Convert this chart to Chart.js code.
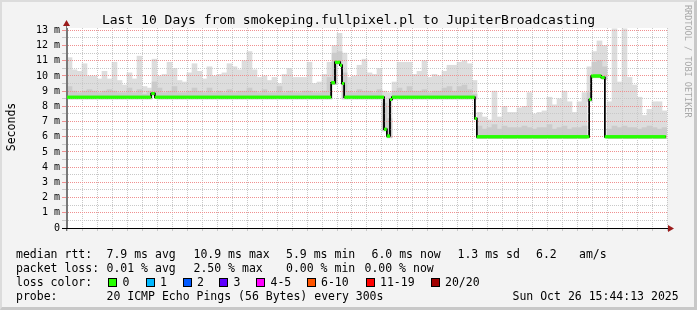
<!DOCTYPE html>
<html lang="en">
<head>
<meta charset="UTF-8">
<title>Last 10 Days from smokeping.fullpixel.pl to JupiterBroadcasting</title>
<script src="https://cdn.jsdelivr.net/npm/chart.js"></script>
<style>
    * { margin: 0; padding: 0; box-sizing: border-box; }
    body {
        width: 697px; height: 310px; overflow: hidden;
        background: #f3f3f3; color: #000;
        font-family: 'DejaVu Sans Mono', monospace;
    }
    .frame {
        position: absolute; left: 0; top: 0; width: 697px; height: 310px;
        border-left: 2px solid #dcdcdc; border-top: 2px solid #dcdcdc;
        border-right: 3px solid #c8c8c8; border-bottom: 3px solid #c8c8c8;
    }
    #chart { position: absolute; left: 0; top: 0; }
    .title {
        position: absolute; left: 0; top: 13px; width: 697px;
        text-align: center; font-size: 13px; line-height: 13px; white-space: pre;
    }
    .ylabel {
        position: absolute; left: -19px; top: 120px; width: 60px; height: 14px;
        text-align: center; font-size: 11.5px; line-height: 14px;
        transform: rotate(-90deg);
    }
    .credit {
        position: absolute; left: 683px; top: 5px; font-size: 8.5px; line-height: 9px;
        color: #a8a8a8; writing-mode: vertical-rl; white-space: pre;
    }
    .lg { position: absolute; font-size: 11.5px; line-height: 14px; white-space: pre; }
    .box { position: absolute; top: 278px; width: 9px; height: 9px; border: 1px solid #000; }
</style>
</head>
<body>
<div class="frame"></div>
<canvas id="chart" width="697" height="310"></canvas>

<div class="title">Last 10 Days from smokeping.fullpixel.pl to JupiterBroadcasting</div>
<div class="ylabel">Seconds</div>
<div class="credit">RRDTOOL / TOBI OETIKER</div>

<!-- legend rows -->
<span class="lg" style="left:16px;top:247px">median rtt:</span>
<span class="lg" style="left:106.5px;top:247px">7.9 ms avg</span>
<span class="lg" style="left:193.5px;top:247px">10.9 ms max</span>
<span class="lg" style="left:286px;top:247px">5.9 ms min</span>
<span class="lg" style="left:371.5px;top:247px">6.0 ms now</span>
<span class="lg" style="left:457.5px;top:247px">1.3 ms sd</span>
<span class="lg" style="left:536px;top:247px">6.2</span>
<span class="lg" style="left:579px;top:247px">am/s</span>

<span class="lg" style="left:16px;top:261px">packet loss:</span>
<span class="lg" style="left:106.5px;top:261px">0.01 % avg</span>
<span class="lg" style="left:193.5px;top:261px">2.50 % max</span>
<span class="lg" style="left:286px;top:261px">0.00 % min</span>
<span class="lg" style="left:364.5px;top:261px">0.00 % now</span>

<span class="lg" style="left:16px;top:275px">loss color:</span>
<div id="lossLegend"></div>

<span class="lg" style="left:16px;top:289px">probe:</span>
<span class="lg" style="left:106.5px;top:289px">20 ICMP Echo Pings (56 Bytes) every 300s</span>
<span class="lg" style="left:512.5px;top:289px">Sun Oct 26 15:44:13 2025</span>

<script>
    // time axis: hours since 16 Oct 00:00
    const timeMin = 17.2;
    const timeMax = 257.2;
    const dayLabels = ['17 Oct', '18 Oct', '19 Oct', '20 Oct', '21 Oct', '22 Oct', '23 Oct', '24 Oct', '25 Oct', '26 Oct'];

    // median rtt (ms) as steps: value medV[i] holds from medT[i] to the next break
    const medT = [17.2, 50.9, 52.3, 122.9, 124.4, 126.4, 127.2, 128.1, 144.0, 145.1, 146.4, 147.2, 180.3, 181.1, 226.1, 226.9, 230.9, 232.3];
    const medV = [8.6, 8.85, 8.6, 9.55, 10.9, 10.7, 9.5, 8.6, 6.5, 6.05, 8.45, 8.6, 7.2, 6.0, 8.45, 10.0, 9.9, 6.0];
    const medEnd = 256.7;

    // smoke, one column every 2 hours starting at 18.2 h (top of light and mid grey)
    const smokeHi = [
        11.2, 10.4, 10.3, 10.8, 10.0, 10.0, 9.8, 10.3, 9.8, 10.9,
        9.7, 9.4, 10.2, 9.8, 11.3, 9.3, 9.2, 11.1, 10.0, 10.1,
        10.9, 10.5, 9.7, 9.6, 10.2, 10.8, 10.3, 9.8, 10.6, 10.0,
        10.1, 10.2, 10.8, 10.6, 10.4, 11.0, 11.6, 10.4, 9.9, 10.0,
        9.7, 9.9, 9.5, 10.1, 10.5, 9.9, 9.9, 9.9, 10.9, 9.5,
        9.6, 10.1, 10.9, 12.0, 12.8, 11.5, 9.9, 10.0, 10.7, 11.1,
        10.2, 10.1, 10.5, 9.0, 8.9, 9.6, 10.9, 10.9, 10.9, 10.1,
        10.3, 11.0, 9.9, 10.1, 10.0, 10.3, 10.7, 10.7, 10.9, 11.0,
        10.8, 9.7, 7.6, 7.3, 7.1, 9.0, 7.3, 8.0, 7.6, 7.6,
        7.9, 8.0, 8.9, 7.5, 7.6, 7.7, 8.6, 8.1, 8.5, 9.0,
        8.3, 7.6, 8.3, 8.9, 10.6, 11.6, 12.3, 12.0, 8.3, 13.1,
        9.6, 13.1, 9.9, 9.4, 8.6, 7.4, 7.8, 8.3, 8.3, 7.7
    ];
    const smokeMid = [
        9.3, 9.0, 8.9, 9.0, 9.1, 9.0, 8.9, 9.0, 9.1, 9.0,
        8.9, 8.9, 9.2, 8.9, 9.1, 8.8, 9.0, 9.6, 9.2, 8.9,
        9.0, 9.3, 8.9, 8.9, 9.0, 9.2, 9.0, 8.9, 9.2, 8.9,
        9.0, 8.9, 9.1, 8.9, 9.0, 9.0, 9.2, 9.0, 8.9, 9.1,
        8.9, 8.9, 9.3, 8.9, 9.0, 8.9, 8.9, 9.0, 9.0, 8.9,
        8.9, 9.0, 9.9, 11.5, 11.6, 10.2, 9.0, 8.9, 9.1, 9.0,
        9.0, 8.9, 9.1, 8.2, 7.2, 9.0, 9.2, 9.0, 9.3, 9.0,
        9.0, 9.1, 8.9, 9.0, 9.0, 9.2, 9.3, 9.0, 9.3, 9.4,
        9.1, 8.8, 6.7, 6.5, 6.6, 6.8, 6.5, 6.7, 6.6, 6.6,
        6.6, 6.7, 6.6, 6.5, 6.6, 6.6, 6.8, 6.5, 6.6, 6.7,
        6.5, 6.6, 6.6, 6.7, 8.9, 10.9, 11.0, 10.6, 6.5, 6.7,
        6.6, 6.7, 6.6, 6.6, 6.5, 6.6, 6.7, 6.6, 6.5, 6.6
    ];

    // loss colour legend
    const lossNames = ['0', '1', '2', '3', '4-5', '6-10', '11-19', '20/20'];
    const lossColors = ['#26ff00', '#00b8ff', '#0059ff', '#5e00ff', '#ff00fe', '#ff5500', '#ff0000', '#a10000'];
    const lossBoxX = [108, 145.5, 182.5, 219, 256, 306.5, 365.5, 430.5];

    const lossLegend = document.getElementById('lossLegend');
    lossNames.forEach((name, i) => {
        lossLegend.innerHTML +=
            `<div class="box" style="left:${lossBoxX[i]}px;background:${lossColors[i]}"></div>` +
            `<span class="lg" style="left:${lossBoxX[i] + 14.5}px;top:275px">${name}</span>`;
    });

    function medianAt(h) {
        let v = medV[0];
        for (let i = 0; i < medT.length; i++) {
            if (h >= medT[i]) v = medV[i];
        }
        return v;
    }

    const binT = smokeHi.map((_, i) => 18.2 + 2 * i);

    const greenData = [];
    medT.forEach((t, i) => {
        const t1 = i + 1 < medT.length ? medT[i + 1] : medEnd;
        greenData.push({ x: t, y: medV[i] }, { x: t1, y: medV[i] }, { x: t1, y: null });
    });
    const blackData = medT.map((t, i) => ({ x: t, y: medV[i] }))
        .concat([{ x: medEnd, y: medV[medV.length - 1] }]);
    const lightBars = binT.map((t, i) => ({ x: t, y: [medianAt(t) - 0.12, smokeHi[i]] }));
    const midBars = binT.map((t, i) => ({ x: t, y: [medianAt(t) - 0.12, smokeMid[i]] }));

    const RED = '#f09090';
    const GREY = '#c8c8c8';
    const ARROW = '#9b1c1c';

    const plotDeco = {
        id: 'plotDeco',
        beforeDraw(chart) {
            const { ctx, chartArea: a } = chart;
            ctx.save();
            ctx.fillStyle = '#ffffff';
            ctx.fillRect(a.left, a.top, a.right - a.left, a.bottom - a.top);
            ctx.restore();
        },
        afterDraw(chart) {
            // median line goes above the grid: black steps first, green on top
            for (let i = chart.data.datasets.length - 1; i >= 0; i--) {
                if (chart.data.datasets[i].type === 'line') chart.getDatasetMeta(i).controller.draw();
            }
            const { ctx, chartArea: a } = chart;
            const yx = Math.round(a.left) - 0.5;
            const xy = Math.round(a.bottom) + 0.5;
            ctx.save();
            ctx.lineWidth = 1;
            ctx.strokeStyle = '#777';
            ctx.beginPath();
            ctx.moveTo(yx, a.bottom + 3);
            ctx.lineTo(yx, a.top - 5);
            ctx.stroke();
            ctx.strokeStyle = '#000';
            ctx.beginPath();
            ctx.moveTo(a.left - 5, xy);
            ctx.lineTo(a.right + 2, xy);
            ctx.stroke();
            ctx.fillStyle = ARROW;
            ctx.beginPath();
            ctx.moveTo(yx - 3.5, a.top - 2);
            ctx.lineTo(yx + 3.5, a.top - 2);
            ctx.lineTo(yx, a.top - 8);
            ctx.closePath();
            ctx.fill();
            ctx.beginPath();
            ctx.moveTo(a.right + 1, xy - 3.5);
            ctx.lineTo(a.right + 1, xy + 3.5);
            ctx.lineTo(a.right + 7, xy);
            ctx.closePath();
            ctx.fill();
            ctx.restore();
        }
    };

    new Chart(document.getElementById('chart'), {
        type: 'line',
        data: {
            datasets: [
                {
                    type: 'line', data: greenData, borderColor: '#26ff00', borderWidth: 3,
                    borderCapStyle: 'butt', pointRadius: 0, spanGaps: false, order: 0
                },
                {
                    type: 'line', data: blackData, borderColor: '#000', borderWidth: 1.5,
                    stepped: 'before', pointRadius: 0, order: 1
                },
                {
                    type: 'bar', data: midBars, backgroundColor: '#cbcbcb', borderWidth: 0,
                    barThickness: 5, grouped: false, order: 2
                },
                {
                    type: 'bar', data: lightBars, backgroundColor: '#dddddd', borderWidth: 0,
                    barThickness: 5, grouped: false, order: 3
                }
            ]
        },
        options: {
            responsive: false,
            animation: false,
            devicePixelRatio: 1,
            events: [],
            layout: { padding: { left: 0, top: 28, right: 30, bottom: 62 } },
            plugins: { legend: { display: false }, tooltip: { enabled: false } },
            scales: {
                x: {
                    type: 'linear', min: timeMin, max: timeMax, offset: false,
                    afterFit: s => { s.height = 20; },
                    grid: {
                        z: 1, offset: false, tickLength: 3,
                        color: c => (c.tick && c.tick.value % 24 === 0 ? RED : GREY),
                        tickColor: c => (c.tick && c.tick.value % 24 === 0 ? RED : GREY)
                    },
                    border: { color: '#000', width: 1, dash: [1, 1], z: 1 },
                    ticks: {
                        stepSize: 6, includeBounds: false, autoSkip: false,
                        maxRotation: 0, minRotation: 0, padding: 1, color: '#000',
                        font: { family: 'DejaVu Sans Mono', size: 10 },
                        callback: v => (v % 24 === 12 ? dayLabels[Math.floor(v / 24) - 1] : '')
                    }
                },
                y: {
                    min: 0, max: 13.15,
                    afterFit: s => { s.width = 67; },
                    grid: {
                        z: 1, tickLength: 5,
                        color: c => (c.tick && c.tick.value % 1 === 0 ? RED : GREY),
                        tickColor: c => (c.tick && c.tick.value % 1 === 0 ? RED : GREY)
                    },
                    border: { color: '#777', width: 1, dash: [1, 1], z: 1 },
                    ticks: {
                        stepSize: 0.5, includeBounds: false, autoSkip: false, padding: 2,
                        color: '#000', font: { family: 'DejaVu Sans Mono', size: 10 },
                        callback: v => (v % 1 !== 0 ? '' : (v === 0 ? '0' : v + ' m'))
                    }
                }
            }
        },
        plugins: [plotDeco]
    });
</script>
</body>
</html>
